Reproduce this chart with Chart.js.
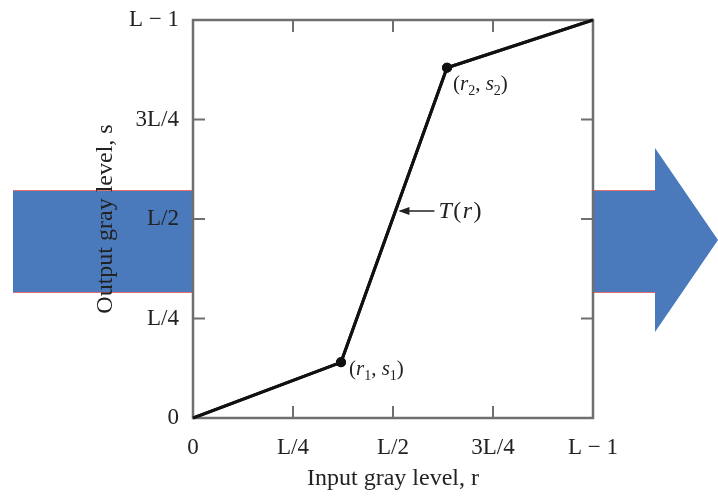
<!DOCTYPE html>
<html>
<head>
<meta charset="utf-8">
<script src="https://cdn.jsdelivr.net/npm/chart.js@4/dist/chart.umd.min.js"></script>
<style>
  html, body { margin: 0; padding: 0; background: #fff; }
  #wrap { width: 718px; height: 497px; }
</style>
</head>
<body>
<div id="wrap"><canvas id="my-chart" width="718" height="497"></canvas></div>
<script>
// piecewise linear stretch T(r), values as fractions of L-1
const inputLevels = [0, 0.37, 0.635, 1];
const outputLevels = [0, 0.14, 0.88, 1];
const tickValues = [0, 0.25, 0.5, 0.75, 1];
const tickLabels = ['0', 'L/4', 'L/2', '3L/4', 'L \u2212 1'];
const pointLabels = [null, ['1'], ['2'], null];

const serif = "'Liberation Serif', 'DejaVu Serif', serif";
const axisGray = '#6f6f6f';

const curvePoints = inputLevels.map((r, i) => ({ x: r, y: outputLevels[i] }));

// blue arrow behind the chart + white plot box
const backdrop = {
  id: 'backdrop',
  beforeDraw(chart) {
    const ctx = chart.ctx;
    const a = chart.chartArea;
    ctx.save();
    ctx.fillStyle = '#fff';
    ctx.fillRect(0, 0, chart.width, chart.height);
    ctx.fillStyle = '#4a7abc';
    ctx.beginPath();
    ctx.moveTo(13, 191);
    ctx.lineTo(655, 191);
    ctx.lineTo(655, 148);
    ctx.lineTo(718, 240);
    ctx.lineTo(655, 332);
    ctx.lineTo(655, 292);
    ctx.lineTo(13, 292);
    ctx.closePath();
    ctx.fill();
    ctx.strokeStyle = '#e07070';
    ctx.lineWidth = 1;
    ctx.beginPath();
    ctx.moveTo(13, 190.5); ctx.lineTo(655, 190.5);
    ctx.moveTo(13, 292.5); ctx.lineTo(655, 292.5);
    ctx.stroke();
    ctx.fillStyle = '#fff';
    ctx.fillRect(a.left, a.top, a.right - a.left, a.bottom - a.top);
    ctx.restore();
  },
  afterDraw(chart) {
    const ctx = chart.ctx;
    const a = chart.chartArea;
    const xs = chart.scales.x, ys = chart.scales.y;
    ctx.save();
    // frame and inward ticks on all four sides
    ctx.strokeStyle = axisGray;
    ctx.lineWidth = 2.5;
    ctx.strokeRect(a.left, a.top, a.right - a.left, a.bottom - a.top);
    ctx.lineWidth = 2;
    const tl = 12;
    ctx.beginPath();
    tickValues.slice(1, -1).forEach(v => {
      const px = xs.getPixelForValue(v);
      const py = ys.getPixelForValue(v);
      ctx.moveTo(px, a.bottom); ctx.lineTo(px, a.bottom - tl);
      ctx.moveTo(px, a.top); ctx.lineTo(px, a.top + tl);
      ctx.moveTo(a.left, py); ctx.lineTo(a.left + tl, py);
      ctx.moveTo(a.right, py); ctx.lineTo(a.right - tl, py);
    });
    ctx.stroke();

    // redraw the curve on top of the frame
    chart.getDatasetMeta(0).controller.draw();

    // point labels (r1, s1), (r2, s2)
    ctx.fillStyle = '#222';
    ctx.textBaseline = 'alphabetic';
    const meta = chart.getDatasetMeta(0);
    const offsets = [null, [8, 13], [6, 22], null];
    pointLabels.forEach((sub, i) => {
      if (!sub) return;
      const el = meta.data[i];
      let x = el.x + offsets[i][0];
      const y = el.y + offsets[i][1];
      const parts = [
        ['(', 'normal', 21, 0], ['r', 'italic', 21, 0], [sub[0], 'normal', 14, 5],
        [', ', 'normal', 21, 0], ['s', 'italic', 21, 0], [sub[0], 'normal', 14, 5],
        [')', 'normal', 21, 0]
      ];
      parts.forEach(p => {
        ctx.font = p[1] + ' ' + p[2] + 'px ' + serif;
        ctx.fillText(p[0], x, y + p[3]);
        x += ctx.measureText(p[0]).width;
      });
    });

    // T(r) arrow label
    const yv = 0.52;
    const k = (yv - outputLevels[1]) / (outputLevels[2] - outputLevels[1]);
    const rv = inputLevels[1] + k * (inputLevels[2] - inputLevels[1]);
    const cx = xs.getPixelForValue(rv) + 3;
    const cy = ys.getPixelForValue(yv);
    ctx.strokeStyle = '#222';
    ctx.lineWidth = 1.6;
    ctx.beginPath();
    ctx.moveTo(cx + 2, cy); ctx.lineTo(cx + 36, cy);
    ctx.stroke();
    ctx.fillStyle = '#222';
    ctx.beginPath();
    ctx.moveTo(cx, cy); ctx.lineTo(cx + 11, cy - 4); ctx.lineTo(cx + 11, cy + 4);
    ctx.closePath();
    ctx.fill();
    let tx = cx + 40;
    const tparts = [['T', 'italic'], ['(', 'normal'], ['r', 'italic'], [')', 'normal']];
    ctx.textBaseline = 'middle';
    tparts.forEach(p => {
      ctx.font = p[1] + ' 24px ' + serif;
      ctx.fillText(p[0], tx, cy + 1);
      tx += ctx.measureText(p[0]).width + 1.5;
    });
    ctx.restore();
  }
};

const ctx = document.getElementById('my-chart').getContext('2d');
const chart = new Chart(ctx, {
  type: 'scatter',
  plugins: [backdrop],
  data: {
    datasets: [
      {
        label: 'T(r)',
        data: curvePoints,
        showLine: true,
        borderColor: '#111',
        backgroundColor: '#111',
        borderWidth: 3,
        pointRadius: [0, 3.5, 3.5, 0],
        pointHoverRadius: 0
      }
    ]
  },
  options: {
    responsive: false,
    animation: false,
    events: [],
    layout: { padding: { left: 0, top: 20, right: 125, bottom: 0 } },
    plugins: { legend: { display: false }, tooltip: { enabled: false } },
    scales: {
      x: {
        type: 'linear',
        min: 0,
        max: 1,
        afterFit: s => { s.height = 79; },
        afterBuildTicks: s => { s.ticks = tickValues.map(v => ({ value: v })); },
        grid: { display: false },
        border: { display: false },
        ticks: {
          padding: 8,
          color: '#222',
          font: { family: serif, size: 23 },
          maxRotation: 0,
          callback: v => tickLabels[tickValues.indexOf(v)]
        },
        title: {
          display: true,
          text: 'Input gray level, r',
          color: '#222',
          font: { family: serif, size: 24 },
          padding: { top: 0, bottom: 4 }
        }
      },
      y: {
        type: 'linear',
        min: 0,
        max: 1,
        afterFit: s => { s.width = 193; },
        afterBuildTicks: s => { s.ticks = tickValues.map(v => ({ value: v })); },
        grid: { display: false },
        border: { display: false },
        ticks: {
          padding: 6,
          color: '#222',
          font: { family: serif, size: 23 },
          callback: v => tickLabels[tickValues.indexOf(v)]
        },
        title: {
          display: true,
          text: 'Output gray level, s',
          color: '#222',
          font: { family: serif, size: 24 },
          padding: { top: 91, bottom: 0 }
        }
      }
    }
  }
});
</script>
</body>
</html>
